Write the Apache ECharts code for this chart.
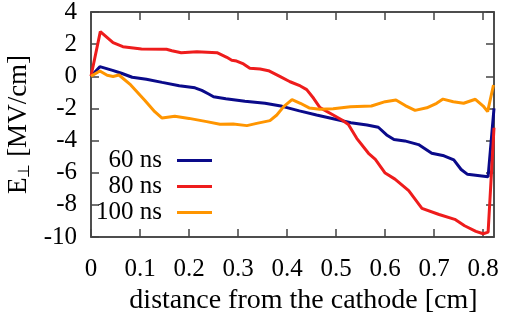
<!DOCTYPE html>
<html><head><meta charset="utf-8">
<script src="https://cdn.jsdelivr.net/npm/echarts@6/dist/echarts.min.js"></script>
<style>html,body{margin:0;padding:0;background:#fff}#c{width:508px;height:325px}</style>
</head><body><div id="c"></div>
<script>
const seriesNames = ['60 ns', '80 ns', '100 ns'];
const yTickValues = [-10, -8, -6, -4, -2, 0, 2, 4];
const xTickLabels = ['0', '0.1', '0.2', '0.3', '0.4', '0.5', '0.6', '0.7', '0.8'];

const x60 = [0, 0.018, 0.044, 0.062, 0.084, 0.113, 0.145, 0.18, 0.212, 0.226, 0.24, 0.25, 0.275, 0.314, 0.355, 0.39, 0.425, 0.46, 0.494, 0.53, 0.563, 0.586, 0.603, 0.618, 0.64, 0.668, 0.695, 0.72, 0.74, 0.755, 0.768, 0.797, 0.81, 0.822];
const y60 = [0, 0.6, 0.37, 0.19, -0.06, -0.18, -0.38, -0.59, -0.72, -0.88, -1.1, -1.27, -1.4, -1.55, -1.68, -1.87, -2.15, -2.41, -2.64, -2.89, -3.03, -3.17, -3.65, -3.94, -4.02, -4.25, -4.79, -4.95, -5.2, -5.8, -6.1, -6.2, -6.25, -2.0];

const x80 = [0, 0.019, 0.045, 0.065, 0.103, 0.154, 0.165, 0.184, 0.216, 0.257, 0.277, 0.287, 0.297, 0.311, 0.324, 0.345, 0.362, 0.386, 0.406, 0.427, 0.44, 0.454, 0.467, 0.494, 0.512, 0.525, 0.542, 0.566, 0.58, 0.6, 0.62, 0.648, 0.675, 0.71, 0.742, 0.762, 0.785, 0.8, 0.81, 0.822];
const y80 = [0, 2.78, 2.09, 1.84, 1.70, 1.68, 1.59, 1.47, 1.53, 1.47, 1.18, 1.0, 0.95, 0.77, 0.5, 0.45, 0.35, -0.02, -0.34, -0.6, -0.83, -1.37, -1.95, -2.41, -2.72, -3.0, -3.86, -4.79, -5.17, -6.02, -6.4, -7.12, -8.22, -8.6, -8.9, -9.3, -9.65, -9.8, -9.7, -3.2];

const x100 = [0, 0.018, 0.033, 0.045, 0.057, 0.081, 0.11, 0.13, 0.145, 0.171, 0.2, 0.236, 0.263, 0.29, 0.318, 0.338, 0.365, 0.379, 0.393, 0.41, 0.427, 0.445, 0.467, 0.494, 0.529, 0.572, 0.6, 0.622, 0.641, 0.661, 0.685, 0.705, 0.718, 0.739, 0.76, 0.784, 0.8, 0.809, 0.821];
const y100 = [0, 0.33, 0.06, -0.01, 0.08, -0.54, -1.5, -2.2, -2.6, -2.49, -2.62, -2.82, -2.98, -2.97, -3.07, -2.93, -2.76, -2.41, -1.89, -1.45, -1.68, -1.97, -2.05, -2.02, -1.89, -1.85, -1.58, -1.47, -1.82, -2.12, -1.96, -1.68, -1.42, -1.58, -1.68, -1.43, -1.85, -2.2, -0.54];

const colors = ['#0a0a8a', '#ee1c1c', '#ff9500'];
const FONT = 'Liberation Serif';
const FS = 25;
const NFS = 28;
const zip = (xs, ys) => xs.map((x, i) => [x, ys[i]]);
const seriesData = [zip(x60, y60), zip(x80, y80), zip(x100, y100)];

function frame() { return { show: true, onZero: false, lineStyle: { color: '#444', width: 1.5, opacity: 1 } }; }
function tick() { return { show: true, inside: true, length: 8, lineStyle: { color: '#444', width: 1.5, opacity: 1 } }; }

const chart = echarts.init(document.getElementById('c'), null, { renderer: 'canvas' });
const legendRows = [148, 174, 200];
chart.setOption({
  animation: false,
  grid: { left: 91, right: 14, top: 12, bottom: 88, show: true, borderColor: '#444', borderWidth: 1.5,
          backgroundColor: 'transparent', containLabel: false, outerBoundsMode: 'none' },
  xAxis: [{
    type: 'value', min: 0, max: 0.822, interval: 0.1, position: 'bottom',
    axisLine: frame(), axisTick: tick(), splitLine: { show: false },
    axisLabel: { fontFamily: FONT, fontSize: FS, color: '#000', margin: 20, showMaxLabel: false,
      formatter: v => { const i = Math.round(v * 10); return (Math.abs(v * 10 - i) < 1e-6 && i < xTickLabels.length) ? xTickLabels[i] : ''; } },
    name: 'distance from the cathode [cm]', nameLocation: 'middle', nameGap: 44,
    nameTextStyle: { fontFamily: FONT, fontSize: NFS, color: '#000', padding: [0, 0, 0, 22] }
  }, {
    type: 'value', min: 0, max: 0.822, interval: 0.1, position: 'top',
    axisLine: frame(), axisTick: tick(), axisLabel: { show: false }, splitLine: { show: false }
  }],
  yAxis: [{
    type: 'value', min: yTickValues[0], max: yTickValues[yTickValues.length - 1], interval: 2, position: 'left',
    axisLine: frame(), axisTick: tick(), splitLine: { show: false },
    axisLabel: { fontFamily: FONT, fontSize: FS, color: '#000', margin: 14 },
    name: '{e|E}{s|⊥}{n| [MV/cm]}', nameLocation: 'middle', nameGap: 48, nameRotate: 90,
    nameTextStyle: { fontFamily: FONT, fontSize: 27, color: '#000',
      rich: { e: { fontFamily: FONT, fontSize: 27, color: '#000' },
              s: { fontFamily: FONT, fontSize: 16, color: '#000', padding: [12, 0, 0, 0] },
              n: { fontFamily: FONT, fontSize: 27, color: '#000' } } }
  }, {
    type: 'value', min: yTickValues[0], max: yTickValues[yTickValues.length - 1], interval: 2, position: 'right',
    axisLine: frame(), axisTick: tick(), axisLabel: { show: false }, splitLine: { show: false }
  }],
  legend: seriesNames.map((n, i) => ({
    data: [n], right: 296, top: legendRows[i], orient: 'vertical', align: 'right',
    icon: 'rect', itemWidth: 35, itemHeight: 3, padding: 0,
    textStyle: { fontFamily: FONT, fontSize: FS, color: '#000', padding: [0, 10, 0, 0] }
  })),
  series: seriesNames.map((n, i) => ({
    name: n, type: 'line', data: seriesData[i], symbol: 'none', showSymbol: false,
    lineStyle: { color: colors[i], width: 3 }, itemStyle: { color: colors[i] }, clip: true
  }))
});
</script></body></html>
